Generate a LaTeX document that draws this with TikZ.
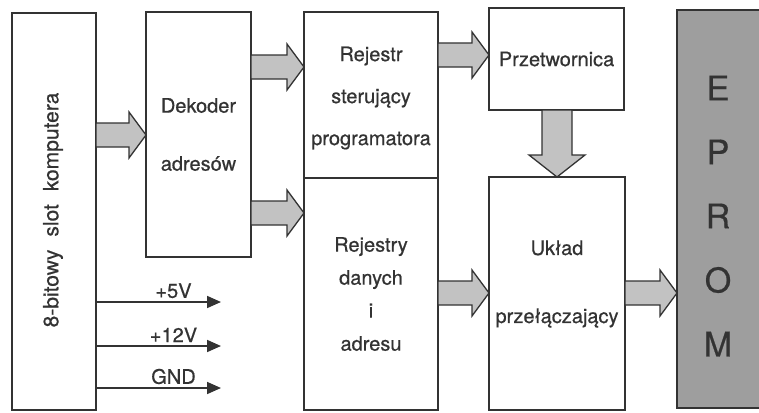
\documentclass[tikz,border=0pt]{standalone}
\usepackage{fontspec}
\setmainfont{TeX Gyre Heros}[FakeBold=0.6]
\usetikzlibrary{arrows.meta, calc}
\def\Wbox{1.8pt}
\def\Shaft{12pt}
\def\Head{23pt}
\def\HeadLen{17pt}
\definecolor{ink}{gray}{0.2}
\definecolor{pipe}{gray}{0.76}
\definecolor{chip}{gray}{0.62}
\newcommand{\BlockFont}[1]{\fontsize{20}{#1}\selectfont}
\tikzset{
    block/.style={
        draw=ink, line width=\Wbox, fill=white, text=ink,
        inner sep=0pt, outer sep=0pt, align=center
    },
    fat arrow/.style={draw=ink, fill=pipe, line width=1.3pt, line join=miter},
    rail/.style={draw=ink, line width=1.7pt, -{Triangle[length=14pt,width=12pt]}},
    volt/.style={above, inner sep=3pt, text=ink, font=\BlockFont{20}}
}
\newcommand{\FatArrow}[2]{% #1:from, #2:to
    \coordinate (fa-s) at (#1);
    \coordinate (fa-e) at (#2);
    \coordinate (fa-n) at ($(fa-e)!\HeadLen!(fa-s)$);
    \draw[fat arrow] ($(fa-s)!\Shaft!90:(fa-e)$) -- ($(fa-n)!\Shaft!-90:(fa-s)$)
        -- ($(fa-n)!\Head!-90:(fa-s)$) -- (fa-e) -- ($(fa-n)!\Head!90:(fa-s)$)
        -- ($(fa-n)!\Shaft!90:(fa-s)$) -- ($(fa-s)!\Shaft!-90:(fa-e)$) -- cycle;
}

\begin{document}
\begin{tikzpicture}[x=1pt, y=-1pt]
    \useasboundingbox (0,0) rectangle (759,412);
    \node[block, minimum width=84, minimum height=397] (slot) at (54,211.5) {};
    \node[rotate=90, text=ink, font=\fontsize{21}{25}\selectfont] (slot-t) at (53,210)
        {8-bitowy\hspace{13pt}slot\hspace{13pt}komputera};
    \node[block, minimum width=105, minimum height=245, font=\BlockFont{58}] (dek) at (198.5,134.5)
        {Dekoder\\adresów};
    \node[block, minimum width=134, minimum height=166] (rejs) at (371,95) {};
    \node[text=ink, align=center, font=\BlockFont{42}] (rejs-t) at (371,98)
        {Rejestr\\sterujący\\programatora};
    \node[block, minimum width=134, minimum height=232, font=\BlockFont{33}] (rejd) at (371,294)
        {Rejestry\\danych\\i\\adresu};
    \node[block, minimum width=135, minimum height=102, font=\BlockFont{24}] (conv) at (556.5,59)
        {Przetwornica};
    \node[block, minimum width=136, minimum height=233] (ukl) at (557,293.5) {};
    \node[text=ink, align=center, font=\BlockFont{68}] (ukl-t) at (557,284)
        {Układ\\przełączający};
    \node[block, fill=chip, minimum width=84, minimum height=398] (eprom) at (719,209) {};
    \node[text=ink, align=center, font=\fontsize{34}{64}\selectfont] (eprom-t) at (718,216)
        {E\\P\\R\\O\\M};

    % szyny danych
    \FatArrow{slot.east |- 0,135}{dek.west |- 0,135}
    \FatArrow{dek.east |- 0,67}{rejs.west |- 0,67}
    \FatArrow{dek.east |- 0,213}{rejd.west |- 0,213}
    \FatArrow{rejs.east |- 0,55}{conv.west |- 0,55}
    \FatArrow{rejd.east |- 0,293}{ukl.west |- 0,293}
    \FatArrow{ukl.east |- 0,293}{eprom.west |- 0,293}
    {\def\Shaft{15pt}\def\Head{28pt}\def\HeadLen{22pt}
    \FatArrow{conv.south -| 557,0}{ukl.north -| 557,0}}

    % zasilanie
    \coordinate (v5) at (221,302);
    \coordinate (v12) at (221,346);
    \coordinate (gnd) at (221,388);
    \draw[rail] (slot.east |- v5) -- node[volt, pos=0.62] (v5-l) {+5V} (v5);
    \draw[rail] (slot.east |- v12) -- node[volt, pos=0.62] (v12-l) {+12V} (v12);
    \draw[rail] (slot.east |- gnd) -- node[volt, pos=0.62] (gnd-l) {GND} (gnd);
\end{tikzpicture}
\end{document}
